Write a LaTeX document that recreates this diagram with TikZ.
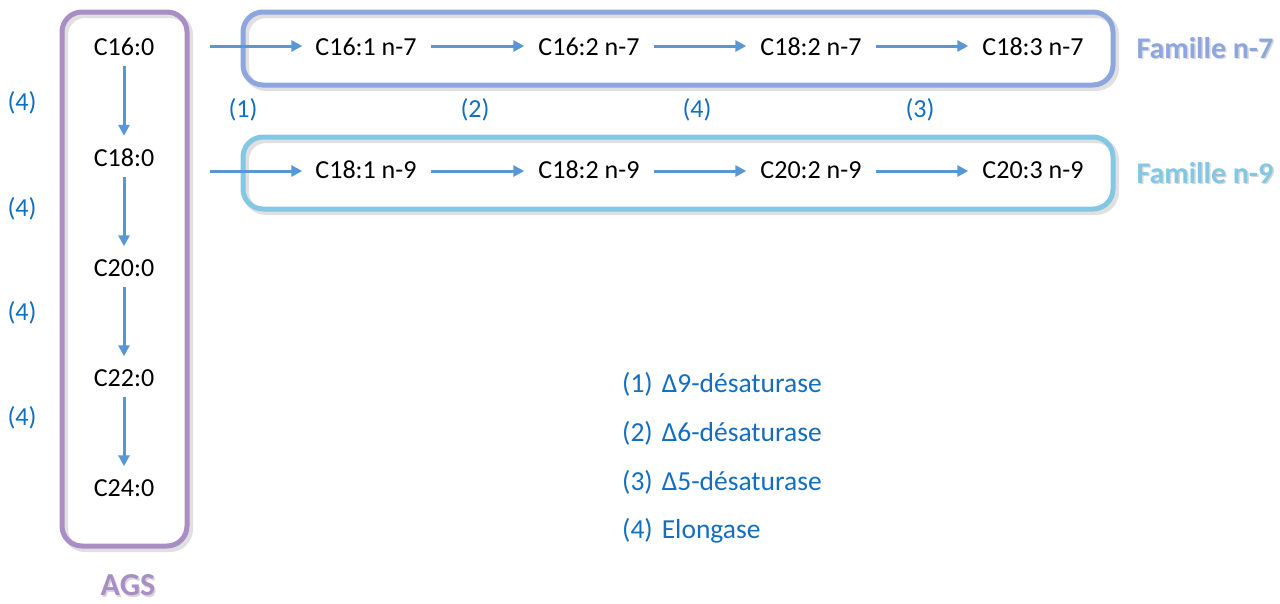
\documentclass[tikz,border=0pt]{standalone}
\usepackage{fontspec}
\setmainfont{Carlito}
\usetikzlibrary{arrows.meta}
\definecolor{agsc}{RGB}{168,142,196}
\definecolor{nseven}{RGB}{142,166,222}
\definecolor{nnine}{RGB}{130,200,228}
\definecolor{arrc}{RGB}{88,150,212}
\definecolor{labc}{RGB}{20,110,190}
\tikzset{
  x=1pt, y=-1pt,
  fa/.style={text=black, font=\fontsize{26}{30}\selectfont, inner sep=0pt},
  lab/.style={text=labc, font=\fontsize{26}{30}\selectfont, inner sep=0pt},
  leg/.style={text=labc, font=\fontsize{27.5}{32}\selectfont, inner sep=0pt, anchor=west},
  conn/.style={draw=arrc, line width=3pt, -{Triangle[length=11pt,width=11pt]}},
  framebox/.style={line width=5pt, rounded corners=20pt},
  shadowbox/.style={draw=black!30, opacity=0.4, line width=6pt, rounded corners=20pt},
  fam/.style={font=\bfseries\fontsize{30}{34}\selectfont, inner sep=0pt},
  famshadow/.style={font=\bfseries\fontsize{30}{34}\selectfont, inner sep=0pt, text=black!45, opacity=0.35},
  agsfont/.style={font=\bfseries\fontsize{32}{36}\selectfont, inner sep=0pt, text depth=0pt},
}
\begin{document}
\begin{tikzpicture}
\useasboundingbox (0,0) rectangle (1280,603);
% frames with shadow
\draw[shadowbox] (65,15) rectangle (190,549);
\draw[framebox, draw=agsc] (62,12) rectangle (187,546);
\draw[shadowbox] (246,15) rectangle (1116,88);
\draw[framebox, draw=nseven] (243,12) rectangle (1113,85);
\draw[shadowbox] (246,140) rectangle (1116,212);
\draw[framebox, draw=nnine] (243,137) rectangle (1113,209);
% AGS column
\node[fa] (c160) at (124,47) {C16:0};
\node[fa] (c180) at (124,158) {C18:0};
\node[fa] (c200) at (124,268) {C20:0};
\node[fa] (c220) at (124,378) {C22:0};
\node[fa] (c240) at (124,488) {C24:0};
\draw[conn] ([yshift=-10pt]c160.south) -- ([yshift=13pt]c180.north);
\draw[conn] ([yshift=-10pt]c180.south) -- ([yshift=13pt]c200.north);
\draw[conn] ([yshift=-10pt]c200.south) -- ([yshift=13pt]c220.north);
\draw[conn] ([yshift=-10pt]c220.south) -- ([yshift=13pt]c240.north);
\node[lab] (l1) at (22,103) {(4)};
\node[lab] (l2) at (22,209) {(4)};
\node[lab] (l3) at (22,313) {(4)};
\node[lab] (l4) at (22,418) {(4)};
% n-7 row
\node[fa] (a1) at (366,47) {C16:1 n-7};
\node[fa] (a2) at (589,47) {C16:2 n-7};
\node[fa] (a3) at (811,47) {C18:2 n-7};
\node[fa] (a4) at (1033,47) {C18:3 n-7};
\coordinate (s1) at (210,46);
\draw[conn] (s1) -- ([xshift=-13pt]a1.west |- s1);
\draw[conn] ([xshift=14pt]a1.east |- s1) -- ([xshift=-14pt]a2.west |- s1);
\draw[conn] ([xshift=14pt]a2.east |- s1) -- ([xshift=-14pt]a3.west |- s1);
\draw[conn] ([xshift=14pt]a3.east |- s1) -- ([xshift=-14pt]a4.west |- s1);
\node[lab] (e1) at (243,110) {(1)};
\node[lab] (e2) at (475,110) {(2)};
\node[lab] (e3) at (697,110) {(4)};
\node[lab] (e4) at (920,110) {(3)};
% n-9 row
\node[fa] (b1) at (366,170) {C18:1 n-9};
\node[fa] (b2) at (589,170) {C18:2 n-9};
\node[fa] (b3) at (811,170) {C20:2 n-9};
\node[fa] (b4) at (1033,170) {C20:3 n-9};
\coordinate (s2) at (210,171);
\draw[conn] (s2) -- ([xshift=-13pt]b1.west |- s2);
\draw[conn] ([xshift=14pt]b1.east |- s2) -- ([xshift=-14pt]b2.west |- s2);
\draw[conn] ([xshift=14pt]b2.east |- s2) -- ([xshift=-14pt]b3.west |- s2);
\draw[conn] ([xshift=14pt]b3.east |- s2) -- ([xshift=-14pt]b4.west |- s2);
% family labels
\node[famshadow] at (1206.5,49.5) {Famille n-7};
\node[fam, text=nseven] (f7) at (1205,48) {Famille n-7};
\node[famshadow] at (1206.5,174.5) {Famille n-9};
\node[fam, text=nnine] (f9) at (1205,173) {Famille n-9};
\node[agsfont, text=black!45, opacity=0.35] at (129.5,586.5) {AGS};
\node[agsfont, text=agsc] (ags) at (128,585) {AGS};
% legend
\node[leg] (g1) at (622,384) {(1)\hspace{9pt}Δ9-désaturase};
\node[leg] (g2) at (622,433) {(2)\hspace{9pt}Δ6-désaturase};
\node[leg] (g3) at (622,482) {(3)\hspace{9pt}Δ5-désaturase};
\node[leg] (g4) at (622,531) {(4)\hspace{9pt}Elongase};
\end{tikzpicture}
\end{document}
